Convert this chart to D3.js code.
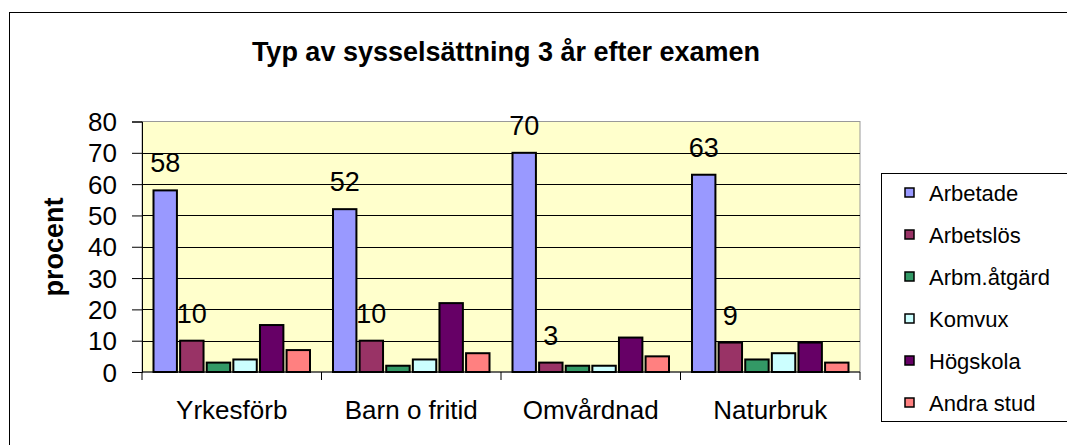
<!DOCTYPE html>
<meta charset="utf-8">
<script src="https://d3js.org/d3.v7.min.js"></script>
<style>
  body { margin: 0; background: #fff; }
  text { font-family: "Liberation Sans", Arial, sans-serif; fill: #000; }
</style>
<body>
<div id="chart"></div>
<script>
  // chart data
  var categories = ["Yrkesförb", "Barn o fritid", "Omvårdnad", "Naturbruk"];
  var seriesNames = ["Arbetade", "Arbetslös", "Arbm.åtgärd", "Komvux", "Högskola", "Andra stud"];
  var arbetade = [58, 52, 70, 63];
  var arbetslos = [10, 10, 3, 9.4];
  var arbmAtgard = [3, 2, 2, 4];
  var komvux = [4, 4, 2, 6];
  var hogskola = [15, 22, 11, 9.4];
  var andraStud = [7, 6, 5, 3];
  var yTicks = [0, 10, 20, 30, 40, 50, 60, 70, 80];
  var colors = ["#9999ff", "#993366", "#339966", "#ccffff", "#660066", "#ff8080"];
  var labelled = ["Arbetade", "Arbetslös"]; // only these series show data labels

  var seriesValues = [arbetade, arbetslos, arbmAtgard, komvux, hogskola, andraStud];
  var rows = [];
  categories.forEach(function (c, i) {
    seriesNames.forEach(function (s, j) {
      rows.push({ cat: c, series: s, val: seriesValues[j][i] });
    });
  });

  var W = 1067, H = 445;
  var plot = { left: 142, right: 860, top: 121.5, bottom: 372 };

  var svg = d3.select("#chart").append("svg")
    .attr("width", W).attr("height", H);

  // outer chart frame (runs off the right and bottom edges)
  svg.append("rect")
    .attr("x", 9.5).attr("y", 12.5)
    .attr("width", 1100).attr("height", 500)
    .attr("fill", "#fff").attr("stroke", "#000").attr("stroke-width", 1);

  svg.append("text")
    .attr("x", 506).attr("y", 61)
    .attr("text-anchor", "middle")
    .style("font-size", "27px").style("font-weight", "bold")
    .text("Typ av sysselsättning 3 år efter examen");

  var x0 = d3.scaleBand().domain(categories).range([plot.left, plot.right]).padding(0);
  var x1 = d3.scaleBand().domain(seriesNames)
    .range([11.5, x0.bandwidth() - 11.5]).paddingInner(0.12).paddingOuter(0);
  var y = d3.scaleLinear().domain([0, 80]).range([plot.bottom, plot.top]);

  // plot background
  svg.append("rect")
    .attr("x", plot.left).attr("y", plot.top)
    .attr("width", plot.right - plot.left).attr("height", plot.bottom - plot.top)
    .attr("fill", "#ffffcc").attr("stroke", "#999").attr("stroke-width", 1);

  // gridlines
  svg.append("g")
    .selectAll("line")
    .data(yTicks.filter(function (d) { return d > 0 && d < 80; }))
    .join("line")
    .attr("x1", plot.left).attr("x2", plot.right)
    .attr("y1", function (d) { return Math.round(y(d)) + 0.5; })
    .attr("y2", function (d) { return Math.round(y(d)) + 0.5; })
    .attr("stroke", "#000").attr("stroke-width", 1);

  // bars
  svg.append("g")
    .selectAll("rect")
    .data(rows)
    .join("rect")
    .attr("x", function (d) { return x0(d.cat) + x1(d.series); })
    .attr("y", function (d) { return y(d.val); })
    .attr("width", x1.bandwidth())
    .attr("height", function (d) { return y(0) - y(d.val); })
    .attr("fill", function (d) { return colors[seriesNames.indexOf(d.series)]; })
    .attr("stroke", "#000").attr("stroke-width", 2);

  // data labels
  svg.append("g")
    .selectAll("text")
    .data(rows.filter(function (d) { return labelled.indexOf(d.series) >= 0; }))
    .join("text")
    .attr("x", function (d) { return x0(d.cat) + x1(d.series) + x1.bandwidth() / 2; })
    .attr("y", function (d) { return y(d.val) - 18; })
    .attr("text-anchor", "middle")
    .style("font-size", "27px")
    .text(function (d) { return d3.format(".0f")(d.val); });

  // y axis
  var yAxis = svg.append("g")
    .attr("transform", "translate(" + plot.left + ",0)")
    .call(d3.axisLeft(y).tickValues(yTicks).tickSize(10).tickPadding(15));
  yAxis.selectAll("text").style("font-size", "26px").attr("dy", "0.35em");
  yAxis.selectAll("line, path").attr("stroke", "#000");

  // x axis
  var xAxis = svg.append("g")
    .attr("transform", "translate(0," + plot.bottom + ")");
  xAxis.append("line")
    .attr("x1", plot.left).attr("x2", plot.right)
    .attr("stroke", "#000");
  xAxis.selectAll(".tk")
    .data(categories.concat(["end"]))
    .join("line")
    .attr("class", "tk")
    .attr("x1", function (d, i) { return i < categories.length ? x0(d) : plot.right; })
    .attr("x2", function (d, i) { return i < categories.length ? x0(d) : plot.right; })
    .attr("y1", 0).attr("y2", 8)
    .attr("stroke", "#000");
  xAxis.selectAll(".lbl")
    .data(categories)
    .join("text")
    .attr("class", "lbl")
    .attr("x", function (d) { return x0(d) + x0.bandwidth() / 2; })
    .attr("y", 47)
    .attr("text-anchor", "middle")
    .style("font-size", "26px")
    .text(function (d) { return d; });

  svg.append("text")
    .attr("transform", "translate(63,247) rotate(-90)")
    .attr("text-anchor", "middle")
    .style("font-size", "27px").style("font-weight", "bold")
    .text("procent");

  // legend
  var legend = svg.append("g");
  legend.append("rect")
    .attr("x", 881.5).attr("y", 173.5)
    .attr("width", 300).attr("height", 248)
    .attr("fill", "#fff").attr("stroke", "#000");
  var item = legend.selectAll(".item")
    .data(seriesNames)
    .join("g")
    .attr("class", "item")
    .attr("transform", function (d, i) { return "translate(905," + (193 + i * 42) + ")"; });
  item.append("rect")
    .attr("x", 0).attr("y", -5)
    .attr("width", 9).attr("height", 9)
    .attr("fill", function (d, i) { return colors[i]; })
    .attr("stroke", "#000").attr("stroke-width", 1.5);
  item.append("text")
    .attr("x", 24).attr("dy", "0.35em")
    .style("font-size", "22px")
    .text(function (d) { return d; });
</script>
</body>
